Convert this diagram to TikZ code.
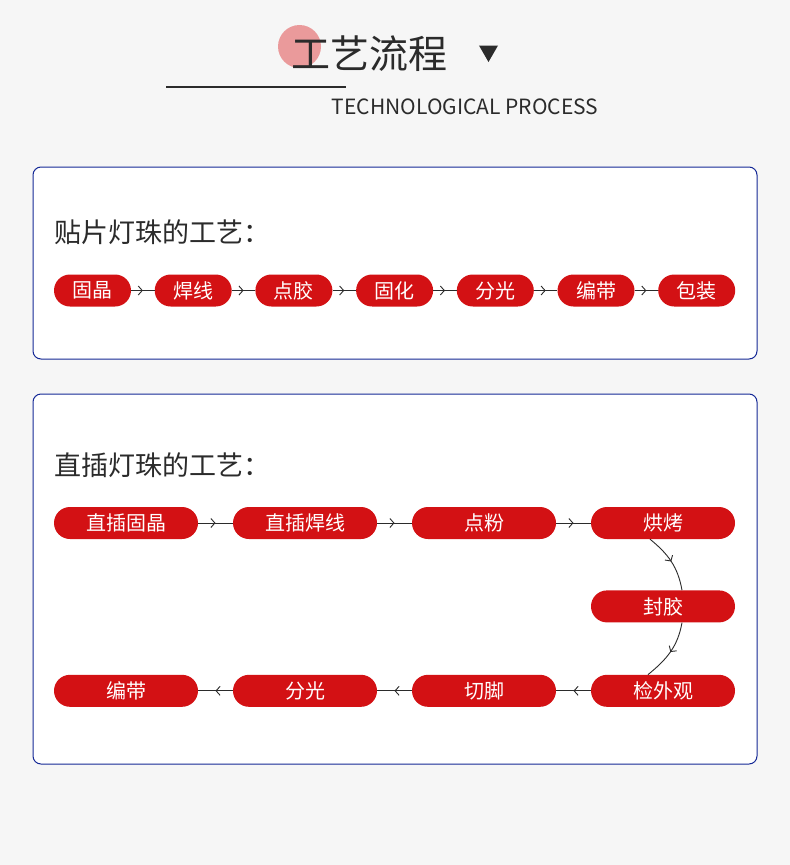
\documentclass[tikz,border=0pt]{standalone}
\usepackage{fontspec}
\setmainfont{Noto Sans CJK SC}
\usetikzlibrary{arrows.meta, positioning, shapes.geometric, decorations.markings}
\definecolor{pagegray}{HTML}{F6F6F6}
\definecolor{stepred}{HTML}{D31114}
\definecolor{framenavy}{HTML}{142896}
\definecolor{dotpink}{HTML}{EA9A9B}
\definecolor{inkdark}{HTML}{2B2B2B}

\begin{document}
\begin{tikzpicture}[
    x=1pt, y=1pt,
    pill/.style={rectangle, fill=stepred, rounded corners=16pt, minimum height=32pt,
                minimum width=77pt, inner sep=0pt, text=white, font=\fontsize{20}{20}\selectfont},
    widepill/.style={pill, minimum width=144pt},
    panel/.style={rectangle, draw=framenavy, fill=white, rounded corners=8pt,
                line width=1pt, minimum width=724pt, inner sep=0pt},
    heading/.style={anchor=west, inner sep=0pt, text=inkdark, font=\fontsize{27}{27}\selectfont},
    flow/.style={draw=inkdark, line width=0.9pt, postaction={decorate},
                decoration={markings, mark=at position 0.5 with {\arrow{Straight Barb[length=4pt, width=9pt]}}}}
]
\useasboundingbox (0,0) rectangle (790,-865);
\fill[pagegray] (0,0) rectangle (790,-865);

% header
\node[circle, fill=dotpink, minimum size=43pt, inner sep=0pt] (dot) at (299.5,-46.5) {};
\node[inner sep=0pt, text=inkdark, font=\fontsize{39}{39}\selectfont] (title) at (369,-54) {工艺流程};
\node[regular polygon, regular polygon sides=3, shape border rotate=180, fill=inkdark,
      minimum size=22pt, inner sep=0pt] (mark) at (488.5,-51) {};
\draw[inkdark, line width=2pt] (166,-87) -- (346,-87);
\node[inner sep=0pt, text=inkdark, font=\fontsize{21}{21}\selectfont] (subtitle) at (465,-107) {TECHNOLOGICAL PROCESS};

% panels
\node[panel, minimum height=192pt] (smdpanel) at (395,-263) {};
\node[panel, minimum height=370pt] (dippanel) at (395,-579) {};

% SMD process
\node[heading] (smdhead) at (54,-232) {贴片灯珠的工艺：};
\node[pill] (gujing) at (92.5,-290.5) {固晶};
\node[pill, right=23.3pt of gujing] (hanxian) {焊线};
\node[pill, right=23.3pt of hanxian] (dianjiao) {点胶};
\node[pill, right=23.3pt of dianjiao] (guhua) {固化};
\node[pill, right=23.3pt of guhua] (fenguang) {分光};
\node[pill, right=23.3pt of fenguang] (biandai) {编带};
\node[pill, right=23.3pt of biandai] (baozhuang) {包装};

\draw[flow] (gujing) -- (hanxian);
\draw[flow] (hanxian) -- (dianjiao);
\draw[flow] (dianjiao) -- (guhua);
\draw[flow] (guhua) -- (fenguang);
\draw[flow] (fenguang) -- (biandai);
\draw[flow] (biandai) -- (baozhuang);

% DIP process
\node[heading] (diphead) at (54,-465) {直插灯珠的工艺：};
\node[widepill] (zcgujing) at (126,-523) {直插固晶};
\node[widepill, right=34.6pt of zcgujing] (zchanxian) {直插焊线};
\node[widepill, right=34.6pt of zchanxian] (dianfen) {点粉};
\node[widepill, right=34.6pt of dianfen] (hongkao) {烘烤};
\node[widepill, below=51pt of hongkao] (fengjiao) {封胶};
\node[widepill, below=52pt of fengjiao] (jianwaiguan) {检外观};
\node[widepill, left=34.6pt of jianwaiguan] (qiejiao) {切脚};
\node[widepill, left=34.6pt of qiejiao] (dipfenguang) {分光};
\node[widepill, left=34.6pt of dipfenguang] (dipbiandai) {编带};

\draw[flow] (zcgujing) -- (zchanxian);
\draw[flow] (zchanxian) -- (dianfen);
\draw[flow] (dianfen) -- (hongkao);
\draw[flow] ([xshift=-13pt]hongkao.south) to[out=-39, in=100] ([xshift=19pt]fengjiao.north);
\draw[flow] ([xshift=19pt]fengjiao.south) to[out=-100, in=39] ([xshift=-15pt]jianwaiguan.north);
\draw[flow] (jianwaiguan) -- (qiejiao);
\draw[flow] (qiejiao) -- (dipfenguang);
\draw[flow] (dipfenguang) -- (dipbiandai);
\end{tikzpicture}
\end{document}
